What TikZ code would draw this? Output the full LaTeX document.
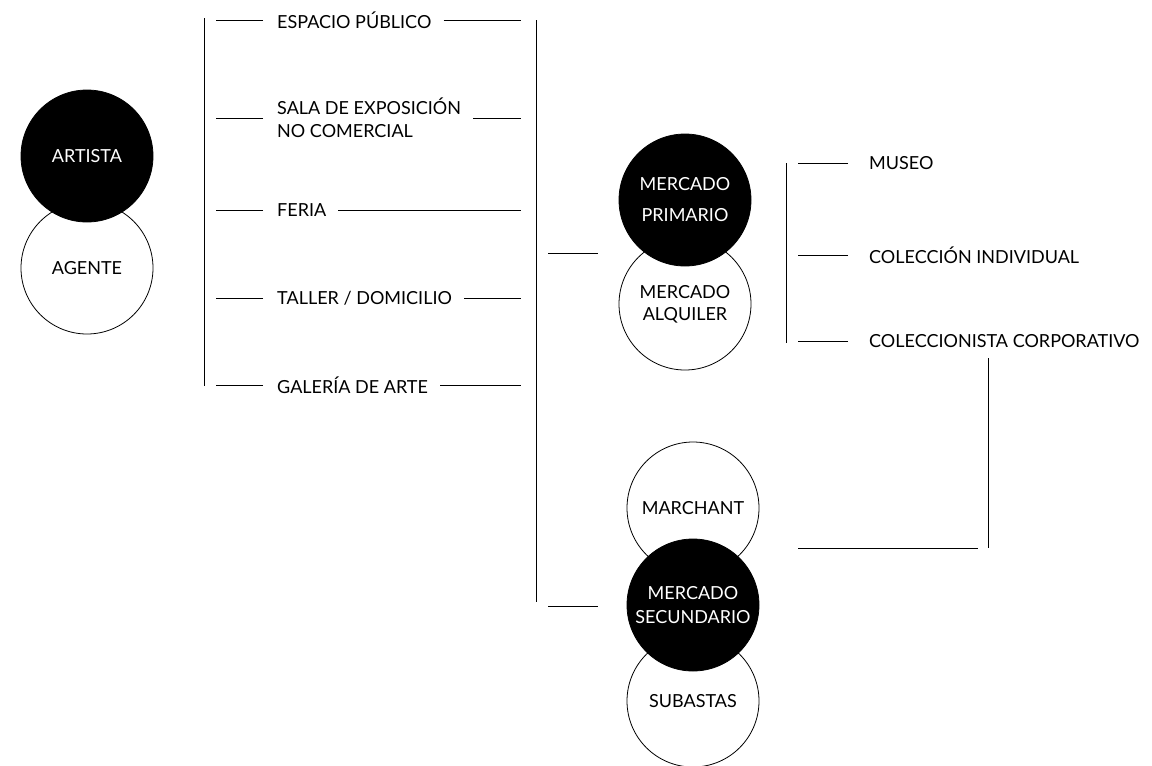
\documentclass[tikz,border=0pt]{standalone}
\usepackage{fontspec}
\setmainfont{Lato}
\begin{document}
\begin{tikzpicture}[x=1pt,y=-1pt,
  ln/.style={line width=1pt,black},
  circbase/.style={circle,minimum size=132pt,inner sep=0pt,align=center,line width=0.8pt},
  blackc/.style={circbase,fill=black,draw=black,text=white,font={\fontsize{18}{31}\selectfont}},
  whitec/.style={circbase,fill=white,draw=black,text=black,font={\fontsize{18}{22}\selectfont}},
  item/.style={anchor=west,inner sep=0pt,align=left,font={\fontsize{18}{23}\selectfont}}]
\useasboundingbox (0,0) rectangle (1152,766);
% left circles
\node[whitec] (agente) at (87,268) {AGENTE};
\node[blackc] (artista) at (87,156) {ARTISTA};
% left list
\node[item] (esp) at (277,20) {ESPACIO PÚBLICO};
\node[item] (sala) at (277,118) {SALA DE EXPOSICIÓN\\NO COMERCIAL};
\node[item] (feria) at (277,210) {FERIA};
\node[item] (taller) at (277,298) {TALLER / DOMICILIO};
\node[item] (gal) at (277,385) {GALERÍA DE ARTE};
\coordinate (lbt) at (204,18);
\coordinate (lbb) at (204,386);
\coordinate (rb) at (521,0);
\draw[ln] (lbt) -- (lbb);
\foreach \n in {esp,sala,feria,taller,gal}{
  \draw[ln] ([xshift=-14pt]\n.west) -- ([xshift=-61pt]\n.west);
  \draw[ln] ([xshift=12pt]\n.east) -- (\n.east -| rb);
}
% right bar of list
\coordinate (mbt) at (536,20);
\coordinate (mbb) at (536,602);
\draw[ln] (mbt) -- (mbb);
% middle circles
\node[whitec] (alq) at (685,304) {MERCADO\\ALQUILER};
\node[blackc] (prim) at (685,200) {MERCADO\\PRIMARIO};
\node[whitec] (marchant) at (693,508) {MARCHANT};
\node[whitec] (subastas) at (693,701) {SUBASTAS};
\node[blackc,font={\fontsize{18}{24}\selectfont}] (sec) at (693,605) {MERCADO\\SECUNDARIO};
\coordinate (p1) at (548,253);
\coordinate (p2) at (598,253);
\draw[ln] (p1) -- (p2);
\coordinate (s1) at (548,606);
\coordinate (s2) at (598,606);
\draw[ln] (s1) -- (s2);
% right list
\node[item] (museo) at (869,163) {MUSEO};
\node[item] (coli) at (869,255) {COLECCIÓN INDIVIDUAL};
\node[item] (colc) at (869,341) {COLECCIONISTA CORPORATIVO};
\coordinate (rvt) at (786,163);
\coordinate (rvb) at (786,343);
\draw[ln] (rvt) -- (rvb);
\foreach \n in {museo,coli,colc}{
  \draw[ln] ([xshift=-21pt]\n.west) -- ([xshift=-71pt]\n.west);
}
% lower connector
\coordinate (cv1) at (988,358);
\coordinate (cv2) at (988,548);
\coordinate (ch1) at (798,548);
\coordinate (ch2) at (978,548);
\draw[ln] (cv1) -- (cv2);
\draw[ln] (ch1) -- (ch2);
\end{tikzpicture}
\end{document}
